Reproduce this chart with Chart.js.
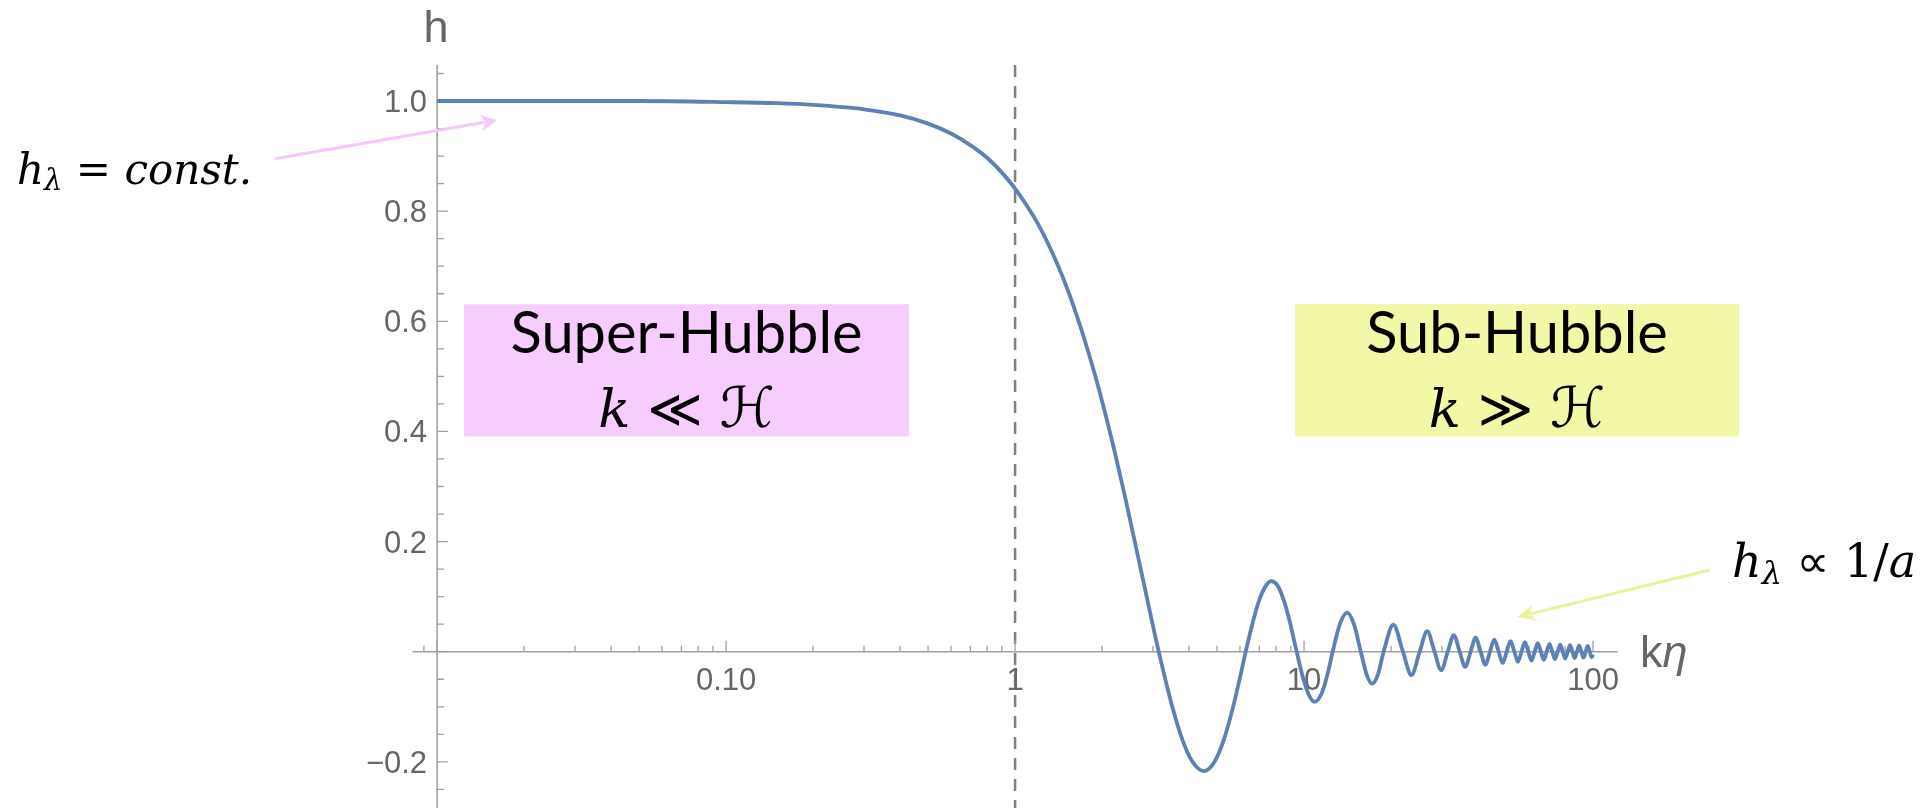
<!DOCTYPE html>
<html>
<head>
<meta charset="utf-8">
<script src="https://cdn.jsdelivr.net/npm/chart.js@4.4.1/dist/chart.umd.min.js"></script>
<style>
  html, body { margin: 0; padding: 0; background: #fff; }
  #wrap { width: 1931px; height: 808px; }
</style>
</head>
<body>
<div id="wrap"><canvas id="c" width="1931" height="808"></canvas></div>
<script>
// kη values and h(kη) (peaks, troughs, crossings and a few in between)
const kEta = [
  0.01, 0.02, 0.05, 0.1, 0.15, 0.2, 0.3, 0.4, 0.5, 0.6, 0.7, 0.8, 0.9, 1.0,
  1.2, 1.4, 1.6, 1.8, 2.0, 2.2, 2.4, 2.6, 2.8, 3.0, 3.2, 3.5, 3.8, 4.1, 4.5,
  4.9, 5.3, 5.7, 6.0, 6.3, 6.6, 7.0, 7.4, 7.7, 8.1, 8.5, 8.9, 9.4, 9.9, 10.4,
  10.9, 11.5, 12.0, 12.6, 13.3, 14.1, 14.9, 15.7, 16.5, 17.2, 18.0, 18.85,
  20.37, 21.99, 23.52, 25.13, 26.67, 28.27, 29.81, 31.42, 32.96, 34.56,
  36.10, 37.70, 39.24, 40.84, 42.39, 43.98, 45.53, 47.12, 48.67, 50.27,
  51.82, 53.41, 54.96, 56.55, 58.10, 59.69, 61.24, 62.83, 64.39, 65.97,
  67.53, 69.12, 70.67, 72.26, 73.81, 75.40, 76.95, 78.54, 80.10, 81.68,
  83.24, 84.82, 86.38, 87.96, 89.52, 91.11, 92.66, 94.25, 95.81, 97.39,
  98.95, 100
];
const hVals = [
  1.000, 1.000, 1.000, 0.998, 0.996, 0.993, 0.985, 0.974, 0.959, 0.941, 0.920, 0.897, 0.870, 0.841,
  0.777, 0.704, 0.625, 0.541, 0.455, 0.368, 0.282, 0.198, 0.120, 0.047, -0.018, -0.100, -0.161, -0.199, -0.217,
  -0.200, -0.157, -0.097, -0.047, 0.003, 0.047, 0.094, 0.121, 0.128, 0.120, 0.094, 0.057, 0.003, -0.046, -0.079,
  -0.091, -0.076, -0.045, 0.003, 0.050, 0.071, 0.049, 0.001, -0.043, -0.058, -0.042, 0.000,
  0.049, 0, -0.0425, 0, 0.0375, 0, -0.0335, 0, 0.0303, 0,
  -0.0277, 0, 0.0255, 0, -0.0236, 0, 0.0220, 0, -0.0205, 0,
  0.0193, 0, -0.0182, 0, 0.0172, 0, -0.0163, 0, 0.0155, 0,
  -0.0148, 0, 0.0141, 0, -0.0135, 0, 0.0130, 0, -0.0125, 0,
  0.0120, 0, -0.0116, 0, 0.0112, 0, -0.0108, 0, 0.0104, 0,
  -0.0101, -0.005
];

// ticks
const xMajorTicks = [0.01, 0.1, 1, 10, 100];
const xTickLabels = ['', '0.10', '1', '10', '100'];
const xMinorTicks = [0.009, 0.02, 0.03, 0.04, 0.05, 0.06, 0.07, 0.08, 0.09,
  0.2, 0.3, 0.4, 0.5, 0.6, 0.7, 0.8, 0.9, 2, 3, 4, 5, 6, 7, 8, 9,
  20, 30, 40, 50, 60, 70, 80, 90];
const yMajorTicks = [-0.2, 0, 0.2, 0.4, 0.6, 0.8, 1.0];
const yTickLabels = ['\u22120.2', '', '0.2', '0.4', '0.6', '0.8', '1.0'];
const yMinorTicks = [-0.25, -0.15, -0.1, -0.05, 0.05, 0.1, 0.15, 0.25, 0.3, 0.35,
  0.45, 0.5, 0.55, 0.65, 0.7, 0.75, 0.85, 0.9, 0.95, 1.05];
const horizonCrossing = 1; // kη = 1, dashed line

const axisColor = '#a0a0a0';
const labelColor = '#666666';
const curveColor = '#5e81b5';

function runs(ctx, parts, x, y, size) {
  parts.forEach(p => {
    ctx.font = (p.style || '') + ' ' + Math.round(size * (p.scale || 1)) + 'px ' + p.family;
    ctx.fillText(p.t, x, y + (p.dy || 0) * size);
    x += ctx.measureText(p.t).width;
  });
  return x;
}
function runsWidth(ctx, parts, size) {
  let w = 0;
  parts.forEach(p => {
    ctx.font = (p.style || '') + ' ' + Math.round(size * (p.scale || 1)) + 'px ' + p.family;
    w += ctx.measureText(p.t).width;
  });
  return w;
}
// font size that makes the runs about `target` px wide
function fitSize(ctx, parts, target) {
  return 50 * target / runsWidth(ctx, parts, 50);
}
function arrow(ctx, x0, y0, x1, y1, color, len, half) {
  const a = Math.atan2(y1 - y0, x1 - x0);
  ctx.save();
  ctx.strokeStyle = color; ctx.fillStyle = color; ctx.lineWidth = 3;
  ctx.beginPath();
  ctx.moveTo(x0, y0);
  ctx.lineTo(x1 - Math.cos(a) * len * 0.8, y1 - Math.sin(a) * len * 0.8);
  ctx.stroke();
  ctx.beginPath();
  ctx.moveTo(x1, y1);
  ctx.lineTo(x1 - Math.cos(a) * len - Math.sin(a) * half, y1 - Math.sin(a) * len + Math.cos(a) * half);
  ctx.lineTo(x1 - Math.cos(a) * len * 0.75, y1 - Math.sin(a) * len * 0.75);
  ctx.lineTo(x1 - Math.cos(a) * len + Math.sin(a) * half, y1 - Math.sin(a) * len - Math.cos(a) * half);
  ctx.closePath();
  ctx.fill();
  ctx.restore();
}

const SERIF = '"DejaVu Serif", "Liberation Serif", serif';
const MATHSYM = '"DejaVu Sans", sans-serif';
const SANS = '"Liberation Sans", Arial, sans-serif';
const BOXFONT = 'Lato, "Open Sans", sans-serif';

const axesPlugin = {
  id: 'axesPlugin',
  beforeDatasetsDraw(chart) {
    const ctx = chart.ctx;
    const xs = chart.scales.x, ys = chart.scales.y;
    const area = chart.chartArea;
    const x0 = xs.getPixelForValue(0.01);
    const y0 = ys.getPixelForValue(0);

    // region boxes
    const boxes = [
      { x: [0.0124, 0.4297], y: [0.391, 0.631], fill: '#f6cdfc',
        title: 'Super-Hubble', rel: '\u226A' },
      { x: [9.31, 320], y: [0.391, 0.631], fill: '#f2f8a5',
        title: 'Sub-Hubble', rel: '\u226B' }
    ];
    ctx.font = '50px ' + BOXFONT;
    const titleSize = 50 * 352 / ctx.measureText('Super-Hubble').width;
    boxes.forEach(b => {
      const l = xs.getPixelForValue(b.x[0]), r = xs.getPixelForValue(b.x[1]);
      const t = ys.getPixelForValue(b.y[1]), bt = ys.getPixelForValue(b.y[0]);
      ctx.fillStyle = b.fill;
      ctx.fillRect(l, t, r - l, bt - t);
      const cx = (l + r) / 2;
      ctx.fillStyle = '#000';
      ctx.textAlign = 'center';
      ctx.textBaseline = 'alphabetic';
      ctx.font = titleSize.toFixed(1) + 'px ' + BOXFONT;
      ctx.fillText(b.title, cx, t + 49);
      ctx.textAlign = 'left';
      const parts = [
        { t: 'k', style: 'italic', family: SERIF },
        { t: ' ' + b.rel + ' ', family: MATHSYM },
        { t: '\u210B', style: 'italic', family: MATHSYM, scale: 1.05 }
      ];
      const s = fitSize(ctx, parts, 178);
      const w = runsWidth(ctx, parts, s);
      runs(ctx, parts, cx - w / 2, bt - 9, s);
    });

    ctx.save();
    // dashed line at kη = 1
    ctx.strokeStyle = '#808080';
    ctx.lineWidth = 2.5;
    ctx.setLineDash([12, 9]);
    const xd = xs.getPixelForValue(horizonCrossing);
    ctx.beginPath();
    ctx.moveTo(xd, area.top);
    ctx.lineTo(xd, area.bottom);
    ctx.stroke();
    ctx.setLineDash([]);

    // axes
    ctx.strokeStyle = axisColor;
    ctx.lineWidth = 1.6;
    ctx.beginPath();
    ctx.moveTo(area.left, y0); ctx.lineTo(area.right, y0);
    ctx.moveTo(x0, area.top); ctx.lineTo(x0, area.bottom);
    ctx.stroke();

    ctx.lineWidth = 1.3;
    ctx.beginPath();
    xMajorTicks.forEach(v => { const p = xs.getPixelForValue(v); ctx.moveTo(p, y0); ctx.lineTo(p, y0 - 11); });
    xMinorTicks.forEach(v => { const p = xs.getPixelForValue(v); ctx.moveTo(p, y0); ctx.lineTo(p, y0 - 6); });
    yMajorTicks.forEach(v => { const p = ys.getPixelForValue(v); ctx.moveTo(x0, p); ctx.lineTo(x0 + 11, p); });
    yMinorTicks.forEach(v => { const p = ys.getPixelForValue(v); ctx.moveTo(x0, p); ctx.lineTo(x0 + 7, p); });
    ctx.stroke();

    // tick labels
    ctx.fillStyle = labelColor;
    ctx.font = '31px ' + SANS;
    ctx.textBaseline = 'alphabetic';
    ctx.textAlign = 'center';
    xMajorTicks.forEach((v, i) => {
      if (xTickLabels[i]) ctx.fillText(xTickLabels[i], xs.getPixelForValue(v), y0 + 38);
    });
    ctx.textAlign = 'right';
    yMajorTicks.forEach((v, i) => {
      if (yTickLabels[i]) ctx.fillText(yTickLabels[i], x0 - 10, ys.getPixelForValue(v) + 11);
    });

    // axis labels
    ctx.textAlign = 'center';
    ctx.font = '45px ' + SANS;
    ctx.fillText('h', x0 - 1, ys.getPixelForValue(1.107));
    ctx.textAlign = 'left';
    runs(ctx, [
      { t: 'k', family: SANS },
      { t: '\u03B7', style: 'italic', family: SANS }
    ], xs.getPixelForValue(145.4), ys.getPixelForValue(-0.028), 45);
    ctx.restore();
  },
  afterDatasetsDraw(chart) {
    const ctx = chart.ctx;
    const xs = chart.scales.x, ys = chart.scales.y;
    ctx.save();
    // arrows
    arrow(ctx, xs.getPixelForValue(0.00275), ys.getPixelForValue(0.895),
      xs.getPixelForValue(0.01613), ys.getPixelForValue(0.9655), '#f5c8fa', 16, 8);
    arrow(ctx, xs.getPixelForValue(253.9), ys.getPixelForValue(0.1484),
      xs.getPixelForValue(54.58), ys.getPixelForValue(0.063), '#ebf29c', 18, 8);

    // annotations
    ctx.fillStyle = '#000';
    ctx.textAlign = 'left';
    ctx.textBaseline = 'alphabetic';
    const constParts = [
      { t: 'h', style: 'italic', family: SERIF },
      { t: '\u03BB', style: 'italic', family: SERIF, scale: 0.7, dy: 0.14 },
      { t: ' = ', family: SERIF },
      { t: 'const.', style: 'italic', family: SERIF }
    ];
    runs(ctx, constParts, xs.getPixelForValue(0.000352), ys.getPixelForValue(0.8493),
      fitSize(ctx, constParts, 236));
    const propParts = [
      { t: 'h', style: 'italic', family: SERIF },
      { t: '\u03BB', style: 'italic', family: SERIF, scale: 0.7, dy: 0.14 },
      { t: ' \u221D ', family: MATHSYM },
      { t: '1/', family: SERIF },
      { t: 'a', style: 'italic', family: SERIF }
    ];
    runs(ctx, propParts, xs.getPixelForValue(302.7), ys.getPixelForValue(0.1356),
      fitSize(ctx, propParts, 185));
    ctx.restore();
  }
};

const points = kEta.map((k, i) => ({ x: k, y: hVals[i] }));

new Chart(document.getElementById('c'), {
  type: 'line',
  data: {
    datasets: [{
      data: points,
      borderColor: curveColor,
      borderWidth: 3.8,
      pointRadius: 0,
      fill: false,
      cubicInterpolationMode: 'monotone'
    }]
  },
  options: {
    responsive: false,
    animation: false,
    layout: { padding: { left: 412.5, right: 313.4, top: 65, bottom: 0 } },
    plugins: { legend: { display: false }, tooltip: { enabled: false } },
    scales: {
      x: { type: 'logarithmic', min: 0.00822, max: 121.6, display: false },
      y: { type: 'linear', min: -0.2838, max: 1.0654, display: false }
    }
  },
  plugins: [axesPlugin]
});
</script>
</body>
</html>
